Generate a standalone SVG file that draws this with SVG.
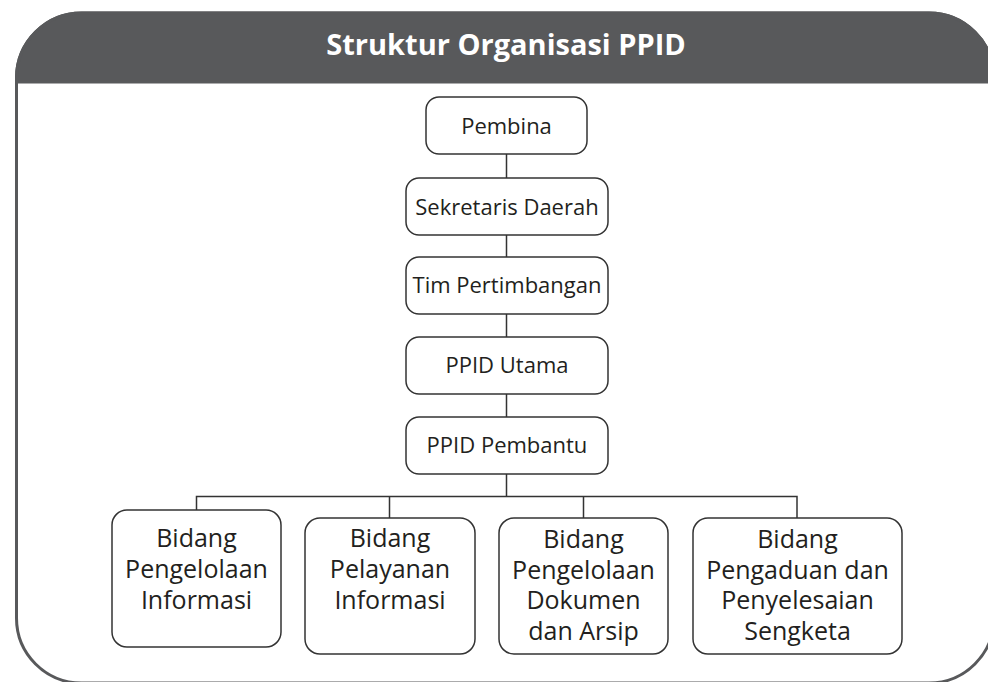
<svg xmlns="http://www.w3.org/2000/svg" width="988" height="682" viewBox="0 0 988 682">
<style>
.frame{fill:#ffffff;stroke:#58595b;stroke-width:3}
.hdr{fill:#58595b;stroke:#58595b;stroke-width:3}
.title{font-family:"Open Sans","Noto Sans",sans-serif;font-weight:bold;font-size:29px;fill:#ffffff;text-anchor:middle}
.box{fill:#ffffff;stroke:#333333;stroke-width:1.5}
.t{font-family:"Open Sans","Noto Sans",sans-serif;font-size:22px;fill:#231f20;text-anchor:middle}
.tb{font-family:"Open Sans","Noto Sans",sans-serif;font-size:25px;fill:#231f20;text-anchor:middle}
.conn{fill:none;stroke:#333333;stroke-width:1.5}
</style>
<rect class="frame" x="16.5" y="13" width="977.5" height="670" rx="65" ry="65"/>
<g id="header">
<path class="hdr" d="M16.5,82 L16.5,78 A65,65 0 0 1 81.5,13 L929,13 A65,65 0 0 1 994,78 L994,82 Z"/>
<text class="title" x="506" y="55">Struktur Organisasi PPID</text>
</g>
<g id="connectors">
<path class="conn" d="M506.5,154 V178 M506.5,235 V257 M506.5,314 V337 M506.5,394 V417 M506.5,474 V496.5"/>
<path class="conn" d="M196.5,510 V496.5 H797 V518 M389.5,496.5 V518 M583.5,496.5 V518"/>
</g>
<g id="pembina">
<rect class="box" x="426" y="97" width="161" height="57" rx="13"/>
<text class="t" x="506.5" y="134">Pembina</text>
</g>
<g id="sekretaris-daerah">
<rect class="box" x="406" y="178" width="202" height="57" rx="13"/>
<text class="t" x="507" y="215">Sekretaris Daerah</text>
</g>
<g id="tim-pertimbangan">
<rect class="box" x="406" y="257" width="202" height="57" rx="13"/>
<text class="t" x="507" y="293">Tim Pertimbangan</text>
</g>
<g id="ppid-utama">
<rect class="box" x="406" y="337" width="202" height="57" rx="13"/>
<text class="t" x="507" y="373">PPID Utama</text>
</g>
<g id="ppid-pembantu">
<rect class="box" x="406" y="417" width="202" height="57" rx="13"/>
<text class="t" x="507" y="453">PPID Pembantu</text>
</g>
<g id="bidang-pengelolaan-informasi">
<rect class="box" x="112" y="510" width="169" height="137" rx="15"/>
<text class="tb" x="196.5" y="547">Bidang</text>
<text class="tb" x="196.5" y="578">Pengelolaan</text>
<text class="tb" x="196.5" y="608.5">Informasi</text>
</g>
<g id="bidang-pelayanan-informasi">
<rect class="box" x="305" y="518" width="170" height="136" rx="15"/>
<text class="tb" x="390" y="547">Bidang</text>
<text class="tb" x="390" y="578">Pelayanan</text>
<text class="tb" x="390" y="608.5">Informasi</text>
</g>
<g id="bidang-pengelolaan-dokumen">
<rect class="box" x="499" y="518" width="169" height="136" rx="15"/>
<text class="tb" x="583.5" y="548">Bidang</text>
<text class="tb" x="583.5" y="578.5">Pengelolaan</text>
<text class="tb" x="583.5" y="609">Dokumen</text>
<text class="tb" x="583.5" y="639.5">dan Arsip</text>
</g>
<g id="bidang-pengaduan">
<rect class="box" x="693" y="518" width="209" height="136" rx="15"/>
<text class="tb" x="797.5" y="548">Bidang</text>
<text class="tb" x="797.5" y="578.5">Pengaduan dan</text>
<text class="tb" x="797.5" y="609">Penyelesaian</text>
<text class="tb" x="797.5" y="639.5">Sengketa</text>
</g>
</svg>
